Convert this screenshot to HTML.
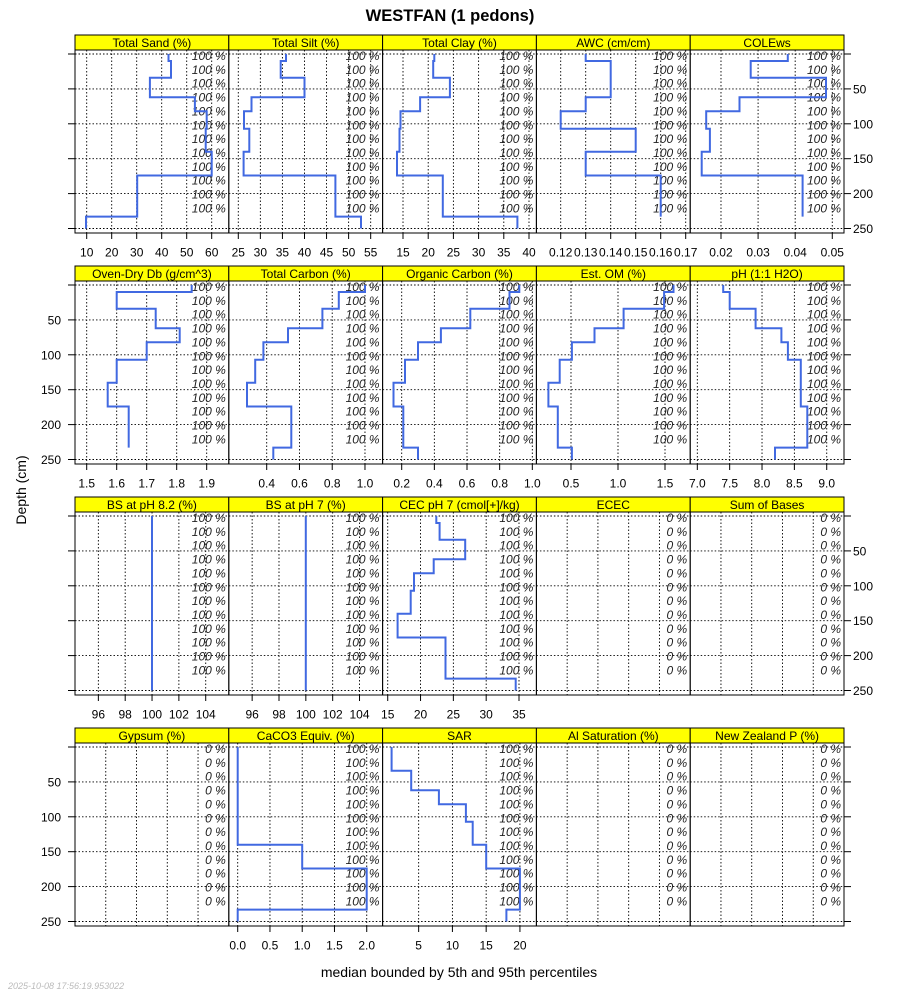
<!DOCTYPE html>
<html><head><meta charset="utf-8">
<style>
html,body{margin:0;padding:0;background:#fff;}
svg{display:block;font-family:"Liberation Sans",sans-serif;}
</style></head>
<body>
<svg id="chart" width="900" height="1000" viewBox="0 0 900 1000" xmlns="http://www.w3.org/2000/svg">
<text x="450" y="21" text-anchor="middle" font-size="16.5" font-weight="bold">WESTFAN (1 pedons)</text>
<text x="0" y="0" transform="translate(26,490) rotate(-90)" text-anchor="middle" font-size="14">Depth (cm)</text>
<text x="459" y="977" text-anchor="middle" font-size="14">median bounded by 5th and 95th percentiles</text>
<text x="8" y="989" font-size="9" font-style="italic" fill="#bbbbbb">2025-10-08 17:56:19.953022</text>
<g id="panels"></g>
</svg>
<script>
// horizon depth boundaries (cm)
const horizonDepths = [0, 10, 34, 62, 82, 107, 140, 174, 233, 250];
const depthTicks = [0, 50, 100, 150, 200, 250];
const depthTickLabels = ["", "50", "100", "150", "200", "250"];

const panelTitles = ["Total Sand (%)", "Total Silt (%)", "Total Clay (%)", "AWC (cm/cm)", "COLEws",
  "Oven-Dry Db (g/cm^3)", "Total Carbon (%)", "Organic Carbon (%)", "Est. OM (%)", "pH (1:1 H2O)",
  "BS at pH 8.2 (%)", "BS at pH 7 (%)", "CEC pH 7 (cmol[+]/kg)", "ECEC", "Sum of Bases",
  "Gypsum (%)", "CaCO3 Equiv. (%)", "SAR", "Al Saturation (%)", "New Zealand P (%)"];

// series values (one per horizon; null = missing)
const sandValues = [42.7, 43.7, 35.3, 53.3, 58, 57.6, 60, 30.2, 9.7];
const siltValues = [35.8, 34.6, 40.0, 28.0, 26.3, 27.5, 26.2, 47.0, 52.8];
const clayValues = [21.2, 21.0, 24.3, 18.4, 14.5, 14.3, 13.8, 22.9, 37.7];
const awcValues = [0.13, 0.14, 0.14, 0.13, 0.12, 0.15, 0.13, 0.16, null];
const coleValues = [0.038, 0.028, 0.0483, 0.025, 0.016, 0.017, 0.0148, 0.042, null];
const dbValues = [1.85, 1.60, 1.73, 1.81, 1.70, 1.60, 1.57, 1.64, null];
const totalCarbonValues = [1.0, 0.84, 0.74, 0.53, 0.38, 0.33, 0.28, 0.55, 0.44];
const organicCarbonValues = [0.92, 0.86, 0.62, 0.44, 0.30, 0.22, 0.15, 0.21, 0.30];
const omValues = [1.59, 1.49, 1.06, 0.75, 0.51, 0.38, 0.26, 0.36, 0.51];
const phValues = [7.4, 7.5, 7.9, 8.3, 8.4, 8.6, 8.6, 8.7, 8.2];
const bs82Values = [100, 100, 100, 100, 100, 100, 100, 100, 100];
const bs7Values = [100, 100, 100, 100, 100, 100, 100, 100, 100];
const cecValues = [22.4, 22.9, 26.8, 22.0, 19.0, 18.5, 16.5, 23.8, 34.5];
const caco3Values = [0, 0, 0, 0, 0, 0, 1.0, 2.0, 0];
const sarValues = [1.0, 1.0, 3.9, 8.0, 12.0, 13.0, 15.0, 20.0, 18.0];
const emptyValues = null;

const panelValues = [sandValues, siltValues, clayValues, awcValues, coleValues,
  dbValues, totalCarbonValues, organicCarbonValues, omValues, phValues,
  bs82Values, bs7Values, cecValues, emptyValues, emptyValues,
  emptyValues, caco3Values, sarValues, emptyValues, emptyValues];

// x-axis domains [lo, hi]
const panelDomains = [[5.32, 66.84], [22.85, 57.7], [10.95, 41.47], [0.11028, 0.17180], [0.0117, 0.05316],
  [1.461, 1.9737], [0.1686, 1.1076], [0.083, 1.025], [0.132, 1.768], [6.890, 9.267],
  [94.26, 105.72], [94.26, 105.72], [14.22, 37.65], [0, 5], [0, 5],
  [0, 5], [-0.138, 2.246], [-0.34, 22.44], [0, 5], [0, 5]];

const emptyTicks = [1, 2, 3, 4];
const panelTicks = [[10, 20, 30, 40, 50, 60], [25, 30, 35, 40, 45, 50, 55], [15, 20, 25, 30, 35, 40],
  [0.12, 0.13, 0.14, 0.15, 0.16, 0.17], [0.02, 0.03, 0.04, 0.05],
  [1.5, 1.6, 1.7, 1.8, 1.9], [0.4, 0.6, 0.8, 1.0], [0.2, 0.4, 0.6, 0.8, 1.0], [0.5, 1.0, 1.5], [7.0, 7.5, 8.0, 8.5, 9.0],
  [96, 98, 100, 102, 104], [96, 98, 100, 102, 104], [15, 20, 25, 30, 35], emptyTicks, emptyTicks,
  emptyTicks, [0, 0.5, 1.0, 1.5, 2.0], [5, 10, 15, 20], emptyTicks, emptyTicks];
const panelTickLabels = [["10","20","30","40","50","60"], ["25","30","35","40","45","50","55"], ["15","20","25","30","35","40"],
  ["0.12","0.13","0.14","0.15","0.16","0.17"], ["0.02","0.03","0.04","0.05"],
  ["1.5","1.6","1.7","1.8","1.9"], ["0.4","0.6","0.8","1.0"], ["0.2","0.4","0.6","0.8","1.0"], ["0.5","1.0","1.5"], ["7.0","7.5","8.0","8.5","9.0"],
  ["96","98","100","102","104"], ["96","98","100","102","104"], ["15","20","25","30","35"], null, null,
  null, ["0.0","0.5","1.0","1.5","2.0"], ["5","10","15","20"], null, null];

const NS = "http://www.w3.org/2000/svg";
const root = document.getElementById("panels");
const lefts = [75, 228.8, 382.6, 536.4, 690.2];
const W = 153.8, PH = 183, ROWSTEP = 231;

function mk(tag, attrs, parent) {
  const e = document.createElementNS(NS, tag);
  for (const k in attrs) e.setAttribute(k, attrs[k]);
  parent.appendChild(e);
  return e;
}
function slug(s) { return s.toLowerCase().replace(/[^a-z0-9]+/g, "-").replace(/^-|-$/g, ""); }

for (let p = 0; p < 20; p++) {
  const row = Math.floor(p / 5), col = p % 5;
  const L = lefts[col], R = L + W;
  const stripTop = 35 + row * ROWSTEP, top = stripTop + 15, bottom = top + PH;
  const dom = panelDomains[p];
  const xs = v => L + (v - dom[0]) / (dom[1] - dom[0]) * W;
  const ys = d => top + 4 + d * 0.698;
  const name = slug(panelTitles[p]);
  const g = mk("g", {}, root);
  
  

  const vals = panelValues[p];
  const ticks = panelTicks[p];
  ticks.forEach(t => {
    const x = xs(t);
    const gl = mk("line", {x1: x, x2: x, y1: top, y2: bottom, stroke: "#000", "stroke-width": 0.9, "stroke-dasharray": "1.5,2"}, g);
    
    
  });
  depthTicks.forEach(d => {
    const y = ys(d);
    const gl = mk("line", {x1: L, x2: R, y1: y, y2: y, stroke: "#000", "stroke-width": 0.9, "stroke-dasharray": "1.5,2"}, g);
    
    
  });

  const pct = vals ? "100 %" : "0 %";
  for (let i = 0; i < 12; i++) {
    const t = mk("text", {x: R - 3, y: top + 10 + i * 13.85, "text-anchor": "end", "font-size": 12, "font-style": "italic", fill: "#222"}, g);
    t.textContent = pct;
    
    
  }

  if (vals) {
    let d = "";
    for (let i = 0; i < vals.length; i++) {
      if (vals[i] === null) break;
      const x = xs(vals[i]);
      d += (i === 0 ? "M" : "L") + x.toFixed(1) + "," + ys(horizonDepths[i]).toFixed(1) + "L" + x.toFixed(1) + "," + ys(horizonDepths[i + 1]).toFixed(1);
    }
    const path = mk("path", {d: d, fill: "none", stroke: "#4169E1", "stroke-width": 2}, g);
    
    
  }

  const fr = mk("rect", {x: L, y: top, width: W, height: PH, fill: "none", stroke: "#000", "stroke-width": 1}, g);
  
  

  const st = mk("rect", {x: L, y: stripTop, width: W, height: 15, fill: "#ffff00", stroke: "#000", "stroke-width": 1}, g);
  
  
  const stt = mk("text", {x: L + W / 2, y: stripTop + 12, "text-anchor": "middle", "font-size": 12}, g);
  stt.textContent = panelTitles[p];
  
  

  const labs = panelTickLabels[p];
  if (labs) {
    ticks.forEach((t, i) => {
      const x = xs(t);
      const tk = mk("line", {x1: x, x2: x, y1: bottom, y2: bottom + 6, stroke: "#000", "stroke-width": 1}, g);
      
      
      const tl = mk("text", {x: x, y: bottom + 23.5, "text-anchor": "middle", "font-size": 12}, g);
      tl.textContent = labs[i];
      
      
    });
  }

  if (col === 0) {
    depthTicks.forEach((d, i) => {
      const y = ys(d);
      const tk = mk("line", {x1: L - 7, x2: L, y1: y, y2: y, stroke: "#000", "stroke-width": 1}, g);
      
      
      if (row % 2 === 1 && depthTickLabels[i]) {
        const tl = mk("text", {x: 61, y: y + 4.5, "text-anchor": "end", "font-size": 12}, g);
        tl.textContent = depthTickLabels[i];
        
        
      }
    });
  }
  if (col === 4) {
    depthTicks.forEach((d, i) => {
      const y = ys(d);
      const tk = mk("line", {x1: R, x2: R + 7, y1: y, y2: y, stroke: "#000", "stroke-width": 1}, g);
      
      
      if (row % 2 === 0 && depthTickLabels[i]) {
        const tl = mk("text", {x: 853, y: y + 4.5, "text-anchor": "start", "font-size": 12}, g);
        tl.textContent = depthTickLabels[i];
        
        
      }
    });
  }
}
</script>
</body></html>
